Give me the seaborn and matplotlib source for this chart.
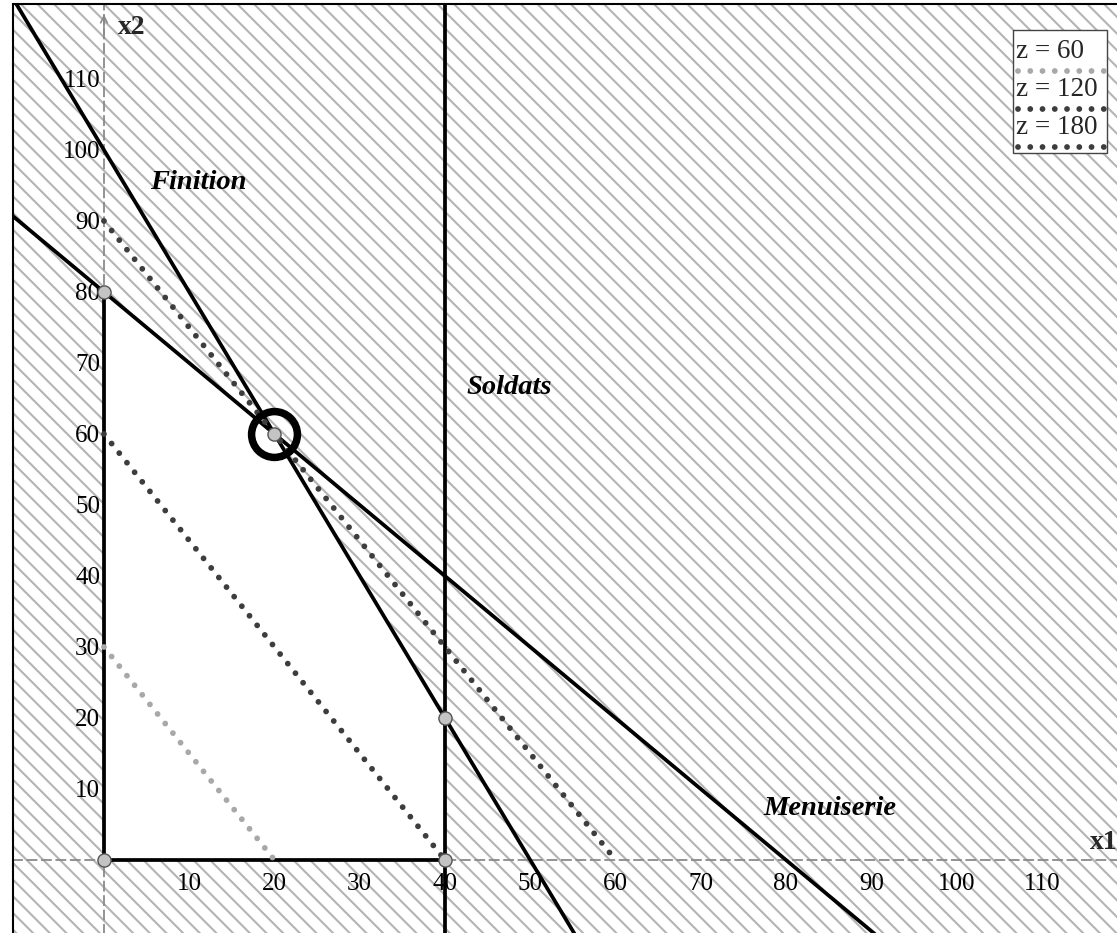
import numpy as np
import pandas as pd
import matplotlib
matplotlib.use("Agg")
import matplotlib.pyplot as plt
import seaborn as sns
from matplotlib.patches import Rectangle, Polygon

# ---------------- data ----------------
constraint_names = ["Finition", "Menuiserie"]
constraint_a = [2, 1]        # coefficient of x1
constraint_b = [1, 1]        # coefficient of x2
constraint_rhs = [100, 80]
soldats_limit = 40
objective = [3, 2]
z_levels = [60, 120, 180]
z_labels = ["z = 60", "z = 120", "z = 180"]
z_colors = ["#a8a8a8", "#3d3d3d", "#3d3d3d"]
vertices_x1 = [0, 0, 20, 40, 40]
vertices_x2 = [0, 80, 60, 20, 0]
optimum_x1 = [20]
optimum_x2 = [60]
tick_values = [10, 20, 30, 40, 50, 60, 70, 80, 90, 100, 110]
region_labels = ["Finition", "Soldats", "Menuiserie"]
region_label_x = [5.4, 42.5, 77.3]
region_label_y = [95.4, 66.5, 7.3]

# ---------------- style ----------------
sns.set_theme(style="white")
plt.rcParams["font.family"] = ["Liberation Serif", "DejaVu Serif"]
plt.rcParams["hatch.color"] = "#b4b4b4"
plt.rcParams["hatch.linewidth"] = 1.5

fig = plt.figure(figsize=(11.17, 9.33), dpi=100)
ax = fig.add_axes([13 / 1117, -10 / 933, 1.0, 939 / 933])
xlim = (-10.67, 120.35)
ylim = (-11.69, 120.56)
ax.set_xlim(*xlim)
ax.set_ylim(*ylim)

# hatched background (infeasible zone) + white feasible polygon
ax.add_patch(Rectangle((0, 0), 1, 1, transform=ax.transAxes, facecolor="white",
                       edgecolor="#b4b4b4", hatch="\\\\", lw=0, zorder=0))
ax.add_patch(Polygon(np.column_stack([vertices_x1, vertices_x2]), closed=True,
                     facecolor="white", edgecolor="none", zorder=1))

# constraint lines
for a, b, rhs in zip(constraint_a, constraint_b, constraint_rhs):
    xs = np.array([xlim[0] - 5, xlim[1] + 5])
    ys = (rhs - a * xs) / b
    sns.lineplot(x=xs, y=ys, color="black", lw=2.7, sort=False, estimator=None,
                 ax=ax, zorder=3)
ax.axvline(soldats_limit, color="black", lw=2.7, zorder=3)

# feasible region borders on the axes
sns.lineplot(x=[vertices_x1[0], vertices_x1[-1]], y=[vertices_x2[0], vertices_x2[-1]],
             color="black", lw=2.7, sort=False, estimator=None, ax=ax, zorder=3)
sns.lineplot(x=[vertices_x1[0], vertices_x1[1]], y=[vertices_x2[0], vertices_x2[1]],
             color="black", lw=2.7, sort=False, estimator=None, ax=ax, zorder=3)

# iso-profit lines
dot_style = (0, (0.001, 2.1))
dot_lw = 4.2
for z, c in zip(z_levels, z_colors):
    xs = np.array([0, z / objective[0]])
    ys = (z - objective[0] * xs) / objective[1]
    sns.lineplot(x=xs, y=ys, color=c, lw=dot_lw, sort=False, estimator=None,
                 ax=ax, zorder=4)
    ln = ax.lines[-1]
    ln.set_linestyle(dot_style)
    ln.set_dash_capstyle("round")

# vertices
sns.scatterplot(x=vertices_x1, y=vertices_x2, s=90, color="#c4c4c4",
                edgecolor="#555555", linewidth=1.0, ax=ax, zorder=6)
# optimum ring
ax.plot(optimum_x1, optimum_x2, marker="o", ms=33, mfc="none", mec="black",
        mew=5.4, ls="none", zorder=7)

# axes through origin, dashed
for side in ["left", "bottom"]:
    ax.spines[side].set_position(("data", 0))
    ax.spines[side].set_linestyle((0, (5, 3)))
    ax.spines[side].set_color("#8a8a8a")
    ax.spines[side].set_linewidth(1.3)
    ax.spines[side].set_zorder(2)
for side in ["top", "right"]:
    ax.spines[side].set_visible(False)

ax.set_xticks(tick_values)
ax.set_yticks(tick_values)
ax.set_xticklabels([str(t) for t in tick_values])
ax.set_yticklabels([str(t) for t in tick_values])
ax.tick_params(axis="both", direction="inout", length=9.4, width=1.0,
               color="#8a8a8a", labelsize=18, labelcolor="black")
ax.tick_params(axis="x", pad=5)
ax.tick_params(axis="y", pad=-2)
ax.grid(False)

# arrow at top of x2 axis
ax.annotate("", xy=(0, 119.5), xytext=(0, 116), zorder=3,
            arrowprops=dict(arrowstyle="->", color="#8a8a8a", lw=1.2))

# axis names
ax.text(1.6, 117.2, "x2", fontsize=20, fontweight="bold", ha="left", va="center")
ax.text(115.7, 2.4, "x1", fontsize=20, fontweight="bold", ha="left", va="center")

# region labels
for lab, lx, ly in zip(region_labels, region_label_x, region_label_y):
    ax.text(lx, ly, lab, fontsize=20.5, fontweight="bold", fontstyle="italic",
            ha="left", va="center", color="black", zorder=8)

# legend (manual, text above dotted sample)
lx0, lx1 = (1013 - 13) / 1117, (1107 - 13) / 1117
def fy(py):
    return (943 - py) / 939
ax.add_patch(Rectangle((lx0, fy(153)), lx1 - lx0, fy(30) - fy(153),
                       transform=ax.transAxes, facecolor="white",
                       edgecolor="#444444", lw=1.0, zorder=9))
for i, (lab, c) in enumerate(zip(z_labels, z_colors)):
    ty = 51 + 38 * i
    ax.text((1016 - 13) / 1117, fy(ty), lab, transform=ax.transAxes,
            fontsize=19.5, ha="left", va="center", zorder=10)
    ax.plot([(1018 - 13) / 1117, (1104 - 13) / 1117], [fy(ty + 20), fy(ty + 20)],
            transform=ax.transAxes, color=c, lw=dot_lw, ls=dot_style,
            dash_capstyle="round", zorder=10)

# outer frame
ax.add_patch(Rectangle((0, 0), 1, 1, transform=ax.transAxes, fill=False,
                       edgecolor="black", lw=1.5, clip_on=False, zorder=11))

fig.savefig("out.png", dpi=100)
